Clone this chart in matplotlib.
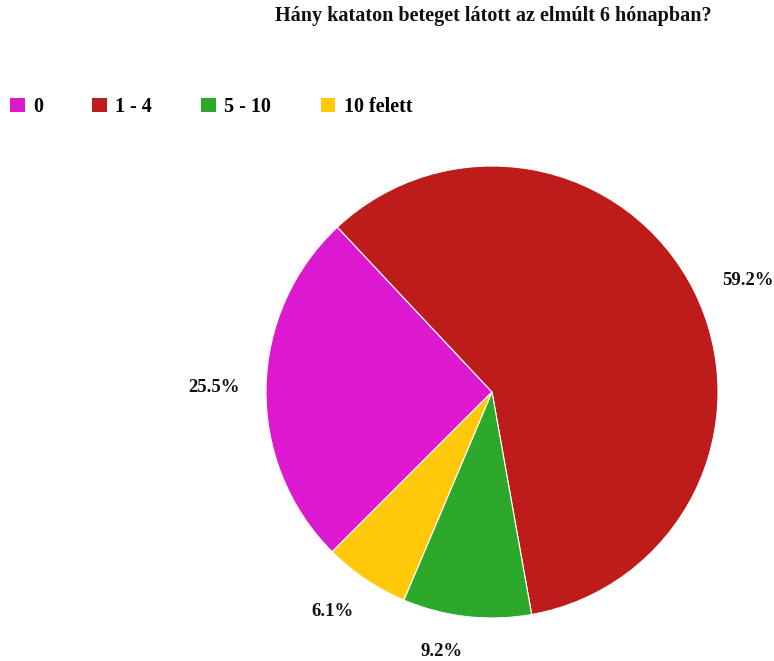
import numpy as np
import matplotlib.pyplot as plt
from matplotlib.patches import Patch

# válaszok (fő)
kategoriak = ['0', '1 - 4', '5 - 10', '10 felett']
valaszok = [25, 58, 9, 6]
szinek = ['#DD19CF', '#BE1B1B', '#2CA82A', '#FFC90A']

# címkék elforgatása a szelet közepéhez képest (fok)
cimke_eltolas = [0.0, -3.0, -4.5, -2.0]

plt.rcParams['font.family'] = ['Liberation Serif', 'DejaVu Serif']
plt.rcParams['font.weight'] = 'bold'

fig = plt.figure(figsize=(7.74, 6.61), dpi=100)
ax = fig.add_axes([266 / 774, 1 - 618 / 661, 452 / 774, 452 / 661])

szeletek, _, szazalekok = ax.pie(
    valaszok, colors=szinek, startangle=225, counterclock=False,
    autopct='%.1f%%', pctdistance=1.2,
    wedgeprops=dict(edgecolor='white', linewidth=0.8),
    textprops=dict(fontsize=13.5, fontweight='bold', color='#111111'))
ax.set_xlim(-1, 1)
ax.set_ylim(-1, 1)
ax.set_aspect('equal')

# címkék a kör mellé, a szöveg méretével kitolva
fig.canvas.draw()
r_px = 226.0
for w, t, d in zip(szeletek, szazalekok, cimke_eltolas):
    th = np.deg2rad((w.theta1 + w.theta2) / 2 + d)
    bb = t.get_window_extent()
    tav = 1.115 + (bb.width / 2 * abs(np.cos(th)) + bb.height / 2 * abs(np.sin(th))) / r_px
    t.set_position((tav * np.cos(th), tav * np.sin(th)))

fig.text(493 / 774, 1 - 16 / 661, 'Hány kataton beteget látott az elmúlt 6 hónapban?',
         ha='center', va='center', fontsize=14.5, fontweight='bold', color='#111111')

jelek = [Patch(facecolor=c, edgecolor='none') for c in szinek]
fig.legend(jelek, kategoriak, ncol=4, loc='center left',
           bbox_to_anchor=(0.0, 1 - 107 / 661), frameon=False,
           prop=dict(size=14.5, weight='bold'), handlelength=0.72, handleheight=0.72,
           handletextpad=0.42, columnspacing=2.45, borderaxespad=0.0, borderpad=0.5)

fig.savefig('out.png', dpi=100, facecolor='white')
